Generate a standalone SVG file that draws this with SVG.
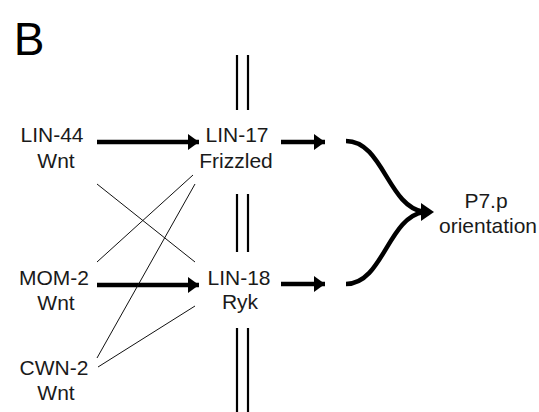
<svg xmlns="http://www.w3.org/2000/svg" width="539" height="412" viewBox="0 0 539 412">
<style>
text{font-family:"Liberation Sans",Arial,sans-serif;font-size:21px;fill:#1a1a1a;text-anchor:middle}
.thick{stroke:#000;stroke-width:4.5;fill:none}
.thin{stroke:#111;stroke-width:1;fill:none}
.bar{stroke:#000;stroke-width:2.2;fill:none}
.head{fill:#000}
</style>
<defs>
<marker id="ah" viewBox="0 0 11 16" refX="11" refY="8" markerWidth="11" markerHeight="16" markerUnits="userSpaceOnUse" orient="auto">
<path d="M0,0 L11,8 L0,16 Z" fill="#000"/>
</marker>
</defs>
<rect width="539" height="412" fill="#fff"/>
<text x="29" y="55" style="font-size:46px;fill:#000">B</text>
<g id="membrane">
<line class="bar" x1="237" y1="55" x2="237" y2="110"/>
<line class="bar" x1="248" y1="55" x2="248" y2="110"/>
<line class="bar" x1="237" y1="194" x2="237" y2="252"/>
<line class="bar" x1="248" y1="194" x2="248" y2="252"/>
<line class="bar" x1="237" y1="328" x2="237" y2="412"/>
<line class="bar" x1="248" y1="328" x2="248" y2="412"/>
</g>
<g id="lin44"><text x="52" y="142">LIN-44</text><text x="56" y="168">Wnt</text></g>
<g id="mom2"><text x="54" y="285">MOM-2</text><text x="56" y="310">Wnt</text></g>
<g id="cwn2"><text x="54" y="375">CWN-2</text><text x="56" y="400">Wnt</text></g>
<g id="lin17"><text x="237" y="142">LIN-17</text><text x="236" y="168">Frizzled</text></g>
<g id="lin18"><text x="239" y="285">LIN-18</text><text x="240" y="309">Ryk</text></g>
<g id="p7p"><text x="486" y="208">P7.p</text><text x="488" y="233">orientation</text></g>
<g id="connectors">
<line class="thick" x1="97" y1="142" x2="199" y2="142" marker-end="url(#ah)"/>
<line class="thick" x1="97" y1="285" x2="199" y2="285" marker-end="url(#ah)"/>
<line class="thick" x1="281" y1="142" x2="325" y2="142" marker-end="url(#ah)"/>
<line class="thick" x1="281" y1="284" x2="325" y2="284" marker-end="url(#ah)"/>
<line class="thin" x1="97" y1="184" x2="195" y2="262"/>
<line class="thin" x1="193" y1="175" x2="97" y2="262"/>
<line class="thin" x1="195" y1="184" x2="97" y2="358"/>
<line class="thin" x1="195" y1="306" x2="98" y2="367"/>
<path class="thick" d="M346,141 C383,141 388,207 424,212"/>
<path class="thick" d="M346,284 C383,284 388,217 424,212"/>
<path class="head" d="M421,203 L434,212 L421,221 Z"/>
</g>
</svg>
